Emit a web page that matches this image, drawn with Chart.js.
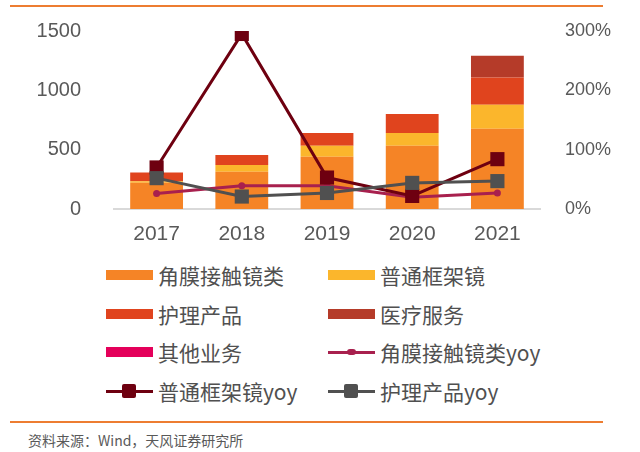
<!DOCTYPE html>
<html>
<head>
<meta charset="utf-8">
<script src="https://cdn.jsdelivr.net/npm/chart.js@4"></script>
<style>
  body { margin: 0; width: 640px; height: 452px; background: #fff; position: relative; overflow: hidden; font-family: "Noto Sans CJK SC", sans-serif; }
  #wrap { position: absolute; left: 0; top: 0; width: 640px; height: 250px; }
  .rule { position: absolute; left: 10px; width: 593px; height: 2px; background: #ED7D31; }
  #legend { position: absolute; left: 106px; top: 256px; width: 520px; }
  .item { position: absolute; height: 38px; display: flex; align-items: center; font-size: 21px; color: #505050; line-height: 38px; white-space: nowrap; }
  .sw { position: relative; width: 47px; height: 16px; margin-right: 5px; }
  #source { position: absolute; left: 28px; top: 431px; font-size: 14px; color: #595959; line-height: 18px; }
</style>
</head>
<body>
<div class="rule" style="top:5px"></div>
<div id="wrap"><canvas id="myChart"></canvas></div>
<div id="legend"></div>
<div class="rule" style="top:421px"></div>
<div id="source">资料来源：Wind，天风证券研究所</div>
<script>
const labels = ['2017', '2018', '2019', '2020', '2021'];

// revenue by segment
const contactLens = [222, 314, 441, 533, 677];
const frames = [12, 57, 92, 107, 202];
const careProducts = [74, 84, 107, 160, 230];
const medical = [0, 0, 0, 0, 182];
const other = [0, 0, 0, 0, 0];

// growth yoy, %
const contactLensYoy = [26, 39, 39, 20, 27];
const framesYoy = [70, 295, 53, 22, 84];
const careYoy = [52, 21, 27, 44, 47];

const bar = (label, data, color) => ({
  type: 'bar', label, data, backgroundColor: color, yAxisID: 'y',
  barPercentage: 0.62, categoryPercentage: 1, order: 5
});

const line = (label, data, color, style, radius, order) => ({
  type: 'line', label, data, borderColor: color, backgroundColor: color,
  borderWidth: 3, pointStyle: style, pointRadius: radius, pointHoverRadius: radius,
  pointBorderWidth: 0, tension: 0, yAxisID: 'y1', order: order
});

const datasets = [
  bar('角膜接触镜类', contactLens, '#F58426'),
  bar('普通框架镜', frames, '#FBB62C'),
  bar('护理产品', careProducts, '#E0441E'),
  bar('医疗服务', medical, '#B53B29'),
  bar('其他业务', other, '#E4005A'),
  line('角膜接触镜类yoy', contactLensYoy, '#A8204E', 'circle', 3.5, 2),
  line('普通框架镜yoy', framesYoy, '#6E0010', 'rect', 10, 1),
  line('护理产品yoy', careYoy, '#505050', 'rect', 10, 0)
];

const tickFamily = 'Liberation Sans, Arial, sans-serif';

const config = {
  data: { labels: labels, datasets: datasets },
  options: {
    responsive: false,
    animation: false,
    layout: { padding: { top: 31, left: 0, right: 0, bottom: 0 } },
    plugins: { legend: { display: false }, tooltip: { enabled: false } },
    scales: {
      x: {
        stacked: true,
        grid: { display: false },
        border: { color: '#D9D9D9', width: 2 },
        ticks: { color: '#595959', font: { family: tickFamily, size: 21 }, padding: 5 },
        afterFit: (s) => { s.height = 41; }
      },
      y: {
        stacked: true,
        min: 0, max: 1500,
        grid: { display: false },
        border: { display: false },
        ticks: { stepSize: 500, color: '#595959', font: { family: tickFamily, size: 20 }, padding: 25, callback: (v) => String(v) },
        afterFit: (s) => { s.width = 114; s.paddingTop = 0; s.paddingBottom = 0; }
      },
      y1: {
        position: 'right',
        min: 0, max: 300,
        grid: { display: false },
        border: { display: false },
        ticks: { stepSize: 100, color: '#595959', font: { family: tickFamily, size: 18 }, padding: 17, callback: (v) => v + '%' },
        afterFit: (s) => { s.width = 100; s.paddingTop = 0; s.paddingBottom = 0; }
      }
    }
  }
};

const canvas = document.getElementById('myChart');
canvas.width = 640;
canvas.height = 250;
const myChart = new Chart(canvas, config);

// legend in two columns, built from the datasets
const legend = document.getElementById('legend');
datasets.forEach((ds, i) => {
  const item = document.createElement('div');
  item.className = 'item';
  item.style.left = (i % 2 ? 222 : 0) + 'px';
  item.style.top = (Math.floor(i / 2) * 38.7) + 'px';
  const sw = document.createElement('div');
  sw.className = 'sw';
  if (ds.type === 'bar') {
    sw.innerHTML = `<div style="position:absolute;left:0;top:3px;width:47px;height:10px;background:${ds.backgroundColor}"></div>`;
  } else {
    let marker;
    if (ds.pointStyle === 'rect') {
      marker = `<div style="position:absolute;left:16px;top:1px;width:14px;height:14px;border-radius:2px;background:${ds.borderColor}"></div>`;
    } else {
      marker = `<div style="position:absolute;left:19px;top:5px;width:9px;height:6px;border-radius:3px;background:${ds.borderColor}"></div>`;
    }
    sw.innerHTML = `<div style="position:absolute;left:0;top:6.5px;width:47px;height:3px;background:${ds.borderColor}"></div>` + marker;
  }
  item.appendChild(sw);
  item.appendChild(document.createTextNode(ds.label));
  legend.appendChild(item);
});
</script>
</body>
</html>
